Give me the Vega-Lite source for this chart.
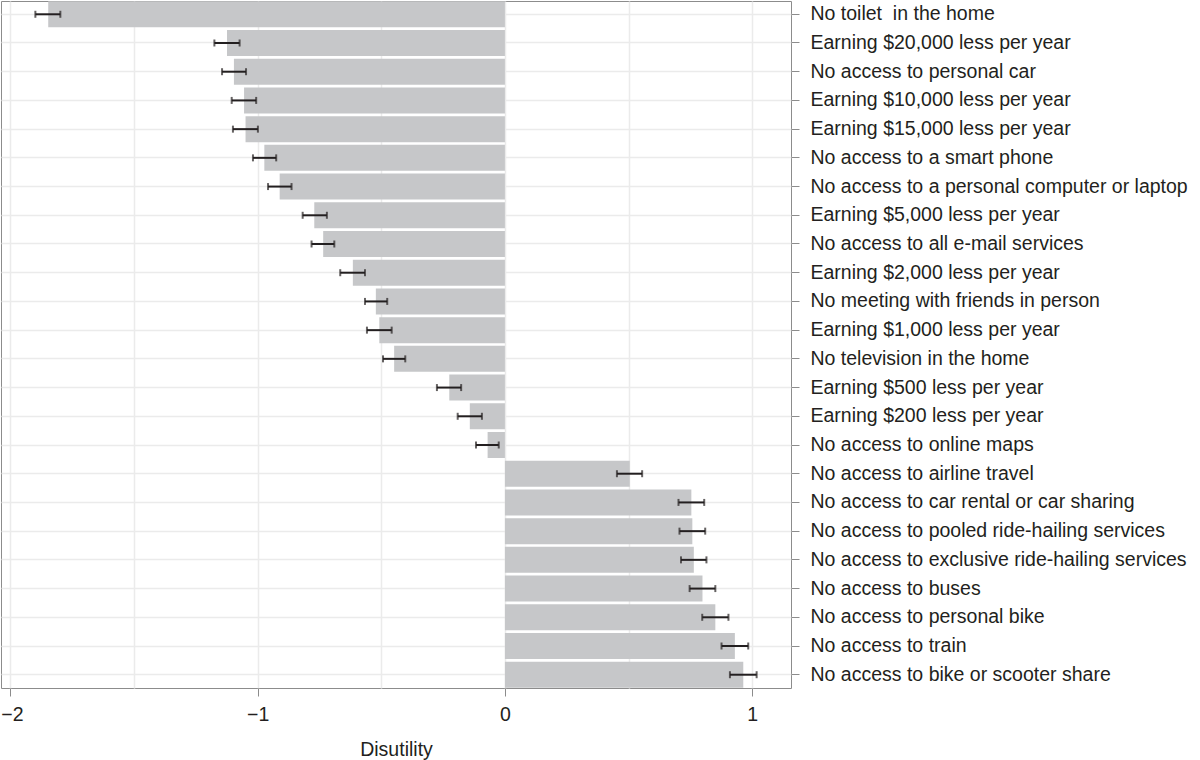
{
  "$schema": "https://vega.github.io/schema/vega-lite/v6.json",
  "autosize": {"type": "none"},
  "padding": {"left": 1, "top": 1, "right": 409, "bottom": 72},
  "width": 790,
  "height": 687,
  "background": "white",
  "config": {
    "view": {"stroke": "#8c8c8c", "strokeWidth": 1},
    "font": "Liberation Sans"
  },
  "data": {
    "values": [
      {"item": "No toilet\u00a0 in the home", "value": -1.847, "lo": -1.899, "hi": -1.798},
      {"item": "Earning $20,000 less per year", "value": -1.124, "lo": -1.175, "hi": -1.073},
      {"item": "No access to personal car", "value": -1.096, "lo": -1.144, "hi": -1.047},
      {"item": "Earning $10,000 less per year", "value": -1.055, "lo": -1.105, "hi": -1.006},
      {"item": "Earning $15,000 less per year", "value": -1.049, "lo": -1.1, "hi": -0.999},
      {"item": "No access to a smart phone", "value": -0.973, "lo": -1.019, "hi": -0.925},
      {"item": "No access to a personal computer or laptop", "value": -0.911, "lo": -0.958, "hi": -0.863},
      {"item": "Earning $5,000 less per year", "value": -0.771, "lo": -0.818, "hi": -0.72},
      {"item": "No access to all e-mail services", "value": -0.735, "lo": -0.782, "hi": -0.69},
      {"item": "Earning $2,000 less per year", "value": -0.615, "lo": -0.666, "hi": -0.566},
      {"item": "No meeting with friends in person", "value": -0.522, "lo": -0.566, "hi": -0.476},
      {"item": "Earning $1,000 less per year", "value": -0.508, "lo": -0.558, "hi": -0.458},
      {"item": "No television in the home", "value": -0.448, "lo": -0.493, "hi": -0.403},
      {"item": "Earning $500 less per year", "value": -0.225, "lo": -0.275, "hi": -0.177},
      {"item": "Earning $200 less per year", "value": -0.142, "lo": -0.191, "hi": -0.093},
      {"item": "No access to online maps", "value": -0.07, "lo": -0.117, "hi": -0.025},
      {"item": "No access to airline travel", "value": 0.505, "lo": 0.453, "hi": 0.555},
      {"item": "No access to car rental or car sharing", "value": 0.754, "lo": 0.702, "hi": 0.806},
      {"item": "No access to pooled ride-hailing services", "value": 0.758, "lo": 0.706, "hi": 0.81},
      {"item": "No access to exclusive ride-hailing services", "value": 0.764, "lo": 0.712, "hi": 0.815},
      {"item": "No access to buses", "value": 0.799, "lo": 0.747, "hi": 0.851},
      {"item": "No access to personal bike", "value": 0.851, "lo": 0.798, "hi": 0.904},
      {"item": "No access to train", "value": 0.93, "lo": 0.876, "hi": 0.984},
      {"item": "No access to bike or scooter share", "value": 0.964, "lo": 0.91, "hi": 1.018}
    ]
  },
  "encoding": {
    "y": {
      "field": "item",
      "type": "nominal",
      "sort": null,
      "scale": {"paddingInner": 0.095, "paddingOuter": 0.01},
      "axis": {
        "orient": "right",
        "title": null,
        "domain": false,
        "ticks": true,
        "tickSize": 8,
        "tickColor": "#8c8c8c",
        "tickWidth": 1,
        "bandPosition": 0.5,
        "grid": true,
        "gridColor": "#ebebeb",
        "gridWidth": 1.5,
        "labelFont": "Liberation Sans",
        "labelFontSize": 19.5,
        "labelColor": "#231f20",
        "labelPadding": 11,
        "labelLimit": 500
      }
    }
  },
  "layer": [
    {
      "mark": {"type": "bar", "color": "#c6c7c9"},
      "encoding": {
        "x": {
          "field": "value",
          "type": "quantitative",
          "scale": {"domain": [-2.038, 1.157], "nice": false, "zero": false},
          "axis": {
            "title": "Disutility",
            "titleFont": "Liberation Sans",
            "titleFontSize": 19.5,
            "titleFontWeight": "normal",
            "titleColor": "#231f20",
            "titlePadding": 17,
            "values": [-2, -1.5, -1, -0.5, 0, 0.5, 1],
            "format": "~g",
            "labelExpr": "datum.value % 1 === 0 ? datum.label : ''",
            "labelOffset": {"condition": {"test": "datum.value === -2", "value": 1.5}, "value": 0},
            "domain": false,
            "tickSize": 8,
            "tickColor": "#8c8c8c",
            "tickWidth": 1,
            "tickOpacity": {"condition": {"test": "datum.value % 1 !== 0", "value": 0}, "value": 1},
            "grid": true,
            "gridColor": "#ebebeb",
            "gridWidth": 1.5,
            "labelFont": "Liberation Sans",
            "labelFontSize": 19.5,
            "labelColor": "#231f20",
            "labelPadding": 9
          }
        }
      }
    },
    {
      "mark": {"type": "rule", "color": "#231f20", "strokeWidth": 2},
      "encoding": {
        "x": {"field": "lo", "type": "quantitative"},
        "x2": {"field": "hi"}
      }
    },
    {
      "mark": {"type": "tick", "orient": "vertical", "color": "#231f20", "size": 7, "thickness": 2},
      "encoding": {
        "x": {"field": "lo", "type": "quantitative"}
      }
    },
    {
      "mark": {"type": "tick", "orient": "vertical", "color": "#231f20", "size": 7, "thickness": 2},
      "encoding": {
        "x": {"field": "hi", "type": "quantitative"}
      }
    }
  ]
}
